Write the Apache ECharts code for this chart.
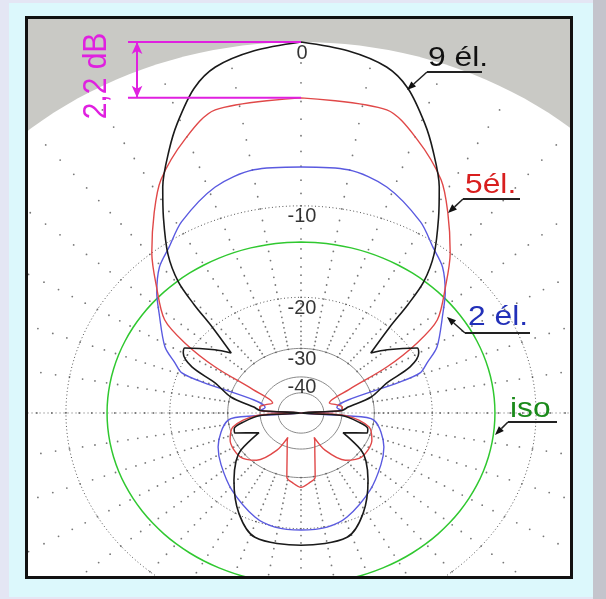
<!DOCTYPE html>
<html>
<head lang="fr">
    <meta charset="UTF-8">
    <title>Diagramme de rayonnement</title>
    <script src="https://cdn.jsdelivr.net/npm/echarts@6/dist/echarts.min.js"></script>
    <style>
        html, body { margin: 0; padding: 0; background: #e4e6f4; }
        #panel { position: absolute; left: 9px; top: 3px; width: 584px; height: 594px; background: #dcf8fc; }
        #edge { position: absolute; left: 593px; top: 0; width: 13px; height: 599px; background: #c4c4cc; }
        #chart { position: absolute; left: 0; top: 0; width: 606px; height: 599px; }
    </style>
</head>
<body>
<div id="panel"></div>
<div id="edge"></div>
<div id="chart"></div>
<script>
    // echelle en dB (anneaux) et libelles
    var ringDb = [0, -10, -20, -30, -40];
    var ringLabels = ['0', '-10', '-20', '-30', '-40'];
    var dottedRings = [-10, -20];
    var solidRings = [-30, -40, -50];
    var isoDb = -13.3;

    // demi-diagrammes (0..180 deg), symetriques
    var ant9Angle = [0, 6.5, 12.3, 16.2, 20.6, 23.9, 28.3, 31.8, 36.4, 39.5, 41, 42.3, 45.7, 50.2, 57.6, 60, 64.4, 68.3, 75.5, 81.9, 86, 90, 94, 100, 105, 109, 118, 125, 130, 138.7, 151.4, 161.9, 180];
    var ant9Db = [0, -0.3, -0.8, -1.6, -3.1, -4.4, -6.3, -8.2, -10.8, -13.4, -16.3, -19.9, -25.1, -22.7, -19.2, -19.4, -21.4, -26, -30.2, -37.4, -40, -99, -40, -34, -31, -30.8, -37.4, -30, -27.5, -24.4, -20.2, -17.9, -17.7];

    var ant5Angle = [0, 14, 20.5, 27.9, 32.9, 39.4, 45.3, 52.2, 55.6, 58.7, 61, 68, 75, 80.6, 86, 90, 94, 103.2, 113.4, 129.4, 140.4, 150.3, 154.5, 156, 162.6, 169, 174.3, 180];
    var ant5Db = [-2.8, -2.95, -4.1, -5.85, -7.6, -10, -12.5, -15.3, -18.8, -24.6, -35, -45, -42, -39.6, -40, -99, -38, -30.8, -29.1, -28.8, -30.9, -37.1, -45, -43.3, -37.9, -29.8, -28.5, -27.6];

    var ant2Angle = [0, 9.7, 18.5, 28.8, 35.1, 40.5, 46.6, 51.3, 61.1, 65.7, 69.1, 70.5, 72.6, 80, 86, 90, 94, 96.3, 115, 126.4, 141.7, 158.7, 168.6, 180];
    var ant2Db = [-7.05, -7.0, -7.6, -9.1, -10.4, -11.3, -12.9, -14.4, -17.1, -19.1, -20.5, -24, -36.8, -42, -40, -99, -38, -30, -26.2, -24.8, -22.8, -20.6, -19.9, -19.8];

    // echelle ARRL : 0.89 par 2 dB
    function toU(db) {
        return db <= -60 ? 0 : Math.pow(0.89, -db / 2);
    }
    function toXY(angle, db) {
        var u = toU(db), a = angle * Math.PI / 180;
        return [u * Math.sin(a), u * Math.cos(a)];
    }
    function pattern(angles, dbs) {
        var pts = [], i;
        for (i = 0; i < angles.length; i++) pts.push(toXY(angles[i], dbs[i]));
        for (i = angles.length - 2; i >= 0; i--) pts.push(toXY(360 - angles[i], dbs[i]));
        return pts;
    }
    function ring(db, step) {
        var pts = [];
        for (var a = 0; a <= 360; a += step) pts.push(toXY(a, db));
        return pts;
    }

    var dots = [];
    for (var a = 0; a < 360; a += 10) {
        for (var d = -1; d >= -30; d--) dots.push(toXY(a, d));
    }

    var series = [];
    // disque blanc (zone > 0 dB en gris)
    series.push({
        type: 'custom',
        data: [0],
        silent: true,
        z: 1,
        renderItem: function (params, api) {
            var pts = ring(0, 2).map(function (p) { return api.coord(p); });
            var cs = params.coordSys;
            return {
                type: 'polygon',
                shape: { points: pts },
                style: { fill: '#ffffff' },
                clipPath: { type: 'rect', shape: { x: cs.x, y: cs.y, width: cs.width, height: cs.height } }
            };
        }
    });
    series.push({
        type: 'scatter', data: dots, symbolSize: 1.8, silent: true, z: 2,
        itemStyle: { color: '#555' }
    });
    dottedRings.forEach(function (db) {
        series.push({
            type: 'line', data: ring(db, 2), symbol: 'none', silent: true, z: 2,
            lineStyle: { color: '#555', width: 1, type: [1, 2.5] }
        });
    });
    solidRings.forEach(function (db) {
        series.push({
            type: 'line', data: ring(db, 2), symbol: 'none', silent: true, z: 2,
            lineStyle: { color: '#8a8a8a', width: 1 }
        });
    });
    series.push({
        type: 'line', data: [toXY(270, -3), toXY(90, -3)], symbol: 'none', silent: true, z: 2,
        lineStyle: { color: '#666', width: 1, type: [1, 3] }
    });

    var curves = [
        { name: 'iso', data: ring(isoDb, 5), color: '#30c830', width: 1.5 },
        { name: '2 él.', data: pattern(ant2Angle, ant2Db), color: '#5a5ae0', width: 1.4 },
        { name: '5él.', data: pattern(ant5Angle, ant5Db), color: '#e04848', width: 1.4 },
        { name: '9 él.', data: pattern(ant9Angle, ant9Db), color: '#1a1a1a', width: 1.6 }
    ];
    curves.forEach(function (c) {
        series.push({
            name: c.name, type: 'line', data: c.data, symbol: 'none', smooth: 0.3, z: 5,
            lineStyle: { color: c.color, width: c.width }
        });
    });

    series.push({
        type: 'scatter', z: 6, silent: true, symbolSize: 1,
        itemStyle: { color: 'rgba(0,0,0,0)' },
        data: ringDb.map(function (db, i) {
            return { value: [0, toU(db)], label: { formatter: ringLabels[i] } };
        }),
        label: {
            show: true, position: 'inside', offset: [1, 11], color: '#000',
            fontSize: 20, fontFamily: '"Liberation Sans", Arial, sans-serif'
        }
    });

    // cote 2,2 dB entre 9 el. et 5 el.
    var top9 = toU(ant9Db[0]), top5 = toU(ant5Db[0]);
    var dimLeft = -0.411, dimX = -0.3895;
    series.push({
        type: 'line', symbol: 'none', silent: true, z: 7,
        data: [[dimLeft, top9], [0, top9]],
        lineStyle: { color: '#e020e0', width: 2 },
        markLine: {
            silent: true, symbol: ['arrow', 'arrow'], symbolSize: [8, 12],
            label: { show: false },
            lineStyle: { color: '#e020e0', width: 2, type: 'solid' },
            data: [[{ coord: [dimX, top9] }, { coord: [dimX, top5] }]]
        }
    });
    series.push({
        type: 'line', symbol: 'none', silent: true, z: 7,
        data: [[dimLeft, top5], [0, top5]],
        lineStyle: { color: '#e020e0', width: 2 }
    });

    function leader(x1, y1, x2, y2) {
        var dx = x2 - x1, dy = y2 - y1, len = Math.sqrt(dx * dx + dy * dy);
        var ux = dx / len, uy = dy / len;
        var bx = x2 - ux * 9, by = y2 - uy * 9;
        return [
            { type: 'line', shape: { x1: x1, y1: y1, x2: bx, y2: by }, style: { stroke: '#222', lineWidth: 1.5 }, z: 20 },
            { type: 'polygon', shape: { points: [[x2, y2], [bx - uy * 3.5, by + ux * 3.5], [bx + uy * 3.5, by - ux * 3.5]] }, style: { fill: '#111' }, z: 20 }
        ];
    }
    function tag(text, x, y, color, ux1, ux2, uy) {
        return [
            { type: 'text', x: x, y: y, scaleX: 1.135, z: 20,
              style: { text: text, fill: color, font: '28px "Liberation Sans", Arial, sans-serif', verticalAlign: 'middle' } },
            { type: 'line', shape: { x1: ux1, y1: uy, x2: ux2, y2: uy }, style: { stroke: '#222', lineWidth: 2 }, z: 20 }
        ];
    }

    var graphics = [];
    graphics = graphics.concat(tag('9 él.', 428, 58, '#111', 427, 482, 72), leader(427, 72, 407, 90));
    graphics = graphics.concat(tag('5él.', 465, 185, '#d81e1e', 463, 520, 199), leader(463, 199, 448, 213));
    graphics = graphics.concat(tag('2 él.', 468, 317, '#2230b8', 465, 530, 333), leader(465, 333, 447, 317));
    graphics = graphics.concat(tag('iso', 510, 409, '#1a8a1a', 508, 557, 422), leader(508, 422, 495, 435));
    graphics.push({
        type: 'text', x: 97, y: 76, rotation: Math.PI / 2, scaleY: 1.135, z: 20,
        style: { text: '2,2 dB', fill: '#e020e0', font: '30px "Liberation Sans", Arial, sans-serif', align: 'center', verticalAlign: 'middle' }
    });
    graphics.push({
        type: 'rect', z: 30, shape: { x: 26.5, y: 17.5, width: 545, height: 560 },
        style: { fill: null, stroke: '#111', lineWidth: 3 }
    });

    var myChart = echarts.init(document.getElementById('chart'));
    var option = {
        animation: false,
        grid: { left: 28, top: 19, width: 542, height: 557, show: true, backgroundColor: '#c9c9c5', borderWidth: 0 },
        xAxis: { type: 'value', min: -0.6485, max: 0.639, show: false },
        yAxis: { type: 'value', min: -0.4394, max: 1.062, show: false },
        series: series,
        graphic: graphics
    };
    myChart.setOption(option);
</script>
</body>
</html>
